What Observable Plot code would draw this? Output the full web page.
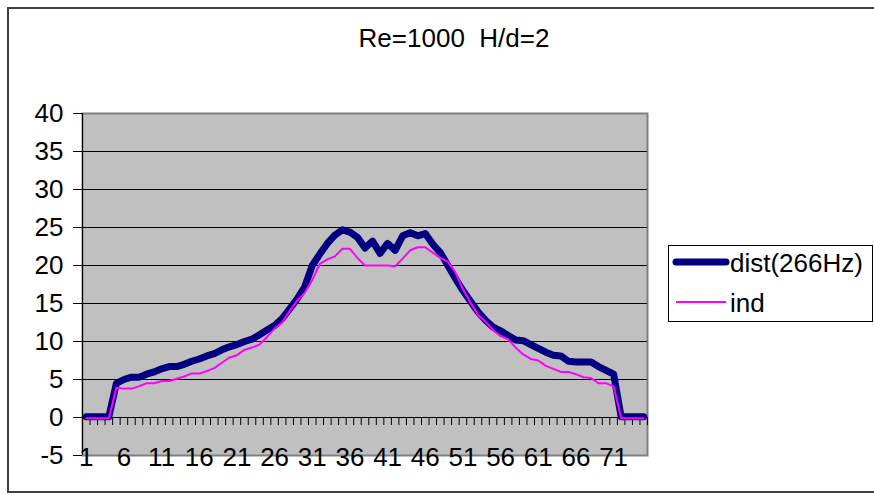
<!DOCTYPE html>
<html>
<head>
<meta charset="utf-8">
<script src="https://cdn.jsdelivr.net/npm/d3@7"></script>
<script src="https://cdn.jsdelivr.net/npm/@observablehq/plot@0.6"></script>
<style>
  html, body { margin: 0; padding: 0; background: #fff; overflow: hidden; }
  #wrap { position: relative; width: 874px; height: 495px; overflow: hidden; font-family: Arial, "Liberation Sans", sans-serif; }
  #chart { position: absolute; left: 0; top: 0; }
  #border { position: absolute; left: 7px; top: 7px; width: 900px; height: 486px; border: 2px solid #404040; box-sizing: border-box; }
  #title { position: absolute; top: 25px; left: 454px; transform: translateX(-50%); font-size: 26px; line-height: 26px; white-space: nowrap; color: #000; }
  #legend { position: absolute; left: 668px; top: 245px; }
</style>
</head>
<body>
<div id="wrap">
  <div id="border"></div>
  <div id="chart"></div>
  <div id="title">Re=1000&nbsp; H/d=2</div>
  <svg id="legend" width="206" height="78"></svg>
</div>
<script>
const categories = d3.range(1, 76);
const seriesNames = ["dist(266Hz)", "ind"];
const dist = [
  0.1, 0.1, 0.1, 0.1, 4.5, 5.0, 5.3, 5.3, 5.7, 6.0,
  6.4, 6.7, 6.7, 7.0, 7.4, 7.7, 8.1, 8.4, 8.9, 9.3,
  9.6, 10.0, 10.3, 10.9, 11.5, 12.1, 13.0, 14.3, 15.6, 17.2,
  20.0, 21.5, 22.9, 24.0, 24.7, 24.4, 23.7, 22.3, 23.2, 21.6,
  22.9, 22.0, 23.9, 24.3, 23.9, 24.2, 22.8, 21.7, 20.0, 18.3,
  16.7, 15.3, 13.9, 12.8, 11.9, 11.4, 10.8, 10.2, 10.1, 9.6,
  9.1, 8.6, 8.2, 8.1, 7.4, 7.3, 7.3, 7.3, 6.7, 6.2,
  5.7, 0.1, 0.1, 0.1, 0.1
];
const ind = [
  -0.1, -0.1, -0.1, -0.1, 3.9, 3.8, 3.8, 4.1, 4.5, 4.5,
  4.8, 4.8, 5.1, 5.4, 5.8, 5.8, 6.1, 6.5, 7.2, 7.9,
  8.2, 8.9, 9.2, 9.6, 10.6, 11.7, 12.5, 14.0, 15.4, 16.4,
  18.1, 20.2, 20.8, 21.2, 22.2, 22.2, 21.0, 20.0, 20.0, 20.0,
  20.0, 19.9, 20.9, 22.0, 22.4, 22.4, 21.7, 21.0, 20.5, 19.1,
  16.9, 15.1, 13.5, 12.6, 11.5, 10.7, 10.3, 9.2, 8.3, 7.7,
  7.5, 6.8, 6.4, 6.0, 6.0, 5.7, 5.3, 5.2, 4.5, 4.5,
  4.1, -0.1, -0.1, -0.1, -0.1
];
const xTickLabels = [1, 6, 11, 16, 21, 26, 31, 36, 41, 46, 51, 56, 61, 66, 71];
const yTicks = [-5, 0, 5, 10, 15, 20, 25, 30, 35, 40];
const gridValues = [5, 10, 15, 20, 25, 30, 35];
const colors = ["#000080", "#FF00FF"];

const distData = categories.map((c, i) => ({x: c, y: dist[i]}));
const indData = categories.map((c, i) => ({x: c, y: ind[i]}));
const boundaries = d3.range(0, categories.length + 1).map(i => i + 0.5);

const chart = Plot.plot({
  width: 874,
  height: 495,
  marginLeft: 82,
  marginRight: 227,
  marginTop: 113,
  marginBottom: 40,
  style: {fontFamily: "Arial, 'Liberation Sans', sans-serif", fontSize: "26px", color: "#000", background: "transparent", overflow: "visible"},
  x: {type: "linear", domain: [0.5, categories.length + 0.5], axis: null},
  y: {domain: [-5, 40], axis: null},
  marks: [
    Plot.frame({fill: "#C0C0C0", stroke: "#808080", strokeWidth: 2}),
    Plot.ruleY(gridValues, {stroke: "#000", strokeWidth: 1}),
    Plot.ruleY([0], {stroke: "#000", strokeWidth: 1}),
    Plot.ruleX([0.5], {stroke: "#000", strokeWidth: 1}),
    Plot.axisY({ticks: yTicks, tickSize: 9, tickPadding: 10, fontSize: 26, label: null, tickFormat: d => String(d)}),
    Plot.axisX({ticks: boundaries, tickSize: 8, tickFormat: () => "", label: null, dy: -38, stroke: "#000"}),
    Plot.line(distData, {x: "x", y: "y", stroke: colors[0], strokeWidth: 7, strokeLinejoin: "round", strokeLinecap: "round"}),
    Plot.line(indData, {x: "x", y: "y", stroke: colors[1], strokeWidth: 2, strokeLinejoin: "round"}),
    Plot.axisX({ticks: xTickLabels, tickSize: 0, tickPadding: 0, dy: -8, fontSize: 26, label: null, tickFormat: d => String(d)})
  ]
});
document.getElementById("chart").appendChild(chart);

// Legend
const lg = d3.select("#legend");
lg.append("rect").attr("x", 0.5).attr("y", 0.5).attr("width", 204).attr("height", 76)
  .attr("fill", "#fff").attr("stroke", "#000").attr("stroke-width", 1);
const legendRows = [
  {name: seriesNames[0], color: colors[0], w: 7, cap: "round", y: 17},
  {name: seriesNames[1], color: colors[1], w: 2, cap: "butt", y: 57}
];
legendRows.forEach(r => {
  lg.append("line").attr("x1", 8).attr("x2", 58).attr("y1", r.y).attr("y2", r.y)
    .attr("stroke", r.color).attr("stroke-width", r.w).attr("stroke-linecap", r.cap);
  lg.append("text").attr("x", 62).attr("y", r.y + 10)
    .attr("font-family", "Arial, 'Liberation Sans', sans-serif").attr("font-size", 26)
    .attr("fill", "#000").text(r.name);
});
</script>
</body>
</html>
